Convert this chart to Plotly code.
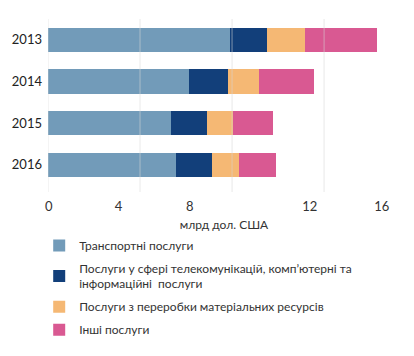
import plotly.graph_objects as go

years = ["2013", "2014", "2015", "2016"]
series_names = [
    "Транспортні послуги",
    "Послуги у сфері телекомунікацій, комп’ютерні та<br>інформаційні  послуги",
    "Послуги з переробки матеріальних ресурсів",
    "Інші послуги",
]
transport = [7.90, 6.13, 5.33, 5.55]
telecom = [1.61, 1.70, 1.57, 1.58]
processing = [1.68, 1.33, 1.16, 1.17]
other = [3.10, 2.39, 1.74, 1.61]
grid_vals = [0, 4, 8, 12]
tick_labels = ["0", "4", "8", "12", "16"]
axis_title = "млрд дол. США"

colors = ["#729bb9", "#123f7a", "#f5b874", "#d95992"]
series = [transport, telecom, processing, other]

fig = go.Figure()
for i, (name, vals, col) in enumerate(zip(series_names, series, colors)):
    fig.add_trace(go.Bar(
        y=years, x=vals, name=name, orientation="h",
        marker=dict(color=col, line=dict(width=0)),
        width=0.58, legendgroup=f"g{i}",
    ))

# label positions as drawn in the original (offset from gridlines)
label_pos = [0.03, 3.07, 6.16, 11.38, 14.51]

for g in grid_vals:
    fig.add_shape(type="line", xref="x", yref="paper", x0=g, x1=g, y0=0, y1=1,
                  line=dict(color="rgba(215,215,215,0.55)", width=1), layer="above")

fig.update_layout(
    barmode="stack",
    width=398, height=340,
    margin=dict(l=40, r=6, t=11, b=156, autoexpand=False),
    paper_bgcolor="white", plot_bgcolor="white",
    font=dict(family="Lato", size=13, color="#333333"),
    xaxis=dict(range=[0, 15.3], tickvals=label_pos, ticktext=tick_labels,
               showgrid=False, zeroline=False, showline=False, ticks="",
               automargin=False, ticklabelstandoff=5,
               tickfont=dict(size=13, color="#333333"),
               title=dict(text=axis_title, font=dict(size=12, color="#333333"),
                          standoff=7)),
    yaxis=dict(categoryorder="array", categoryarray=years, range=[3.65, -0.5],
               showgrid=False, zeroline=False, ticks="", ticklabelstandoff=5,
               automargin=False,
               tickfont=dict(size=13, color="#222222")),
    legend=dict(x=-0.025, xanchor="left", y=-0.225, yanchor="top",
                traceorder="grouped", font=dict(size=12, color="#333333"),
                bgcolor="rgba(0,0,0,0)", tracegroupgap=4),
    showlegend=True,
)
fig.write_html("out.html")
